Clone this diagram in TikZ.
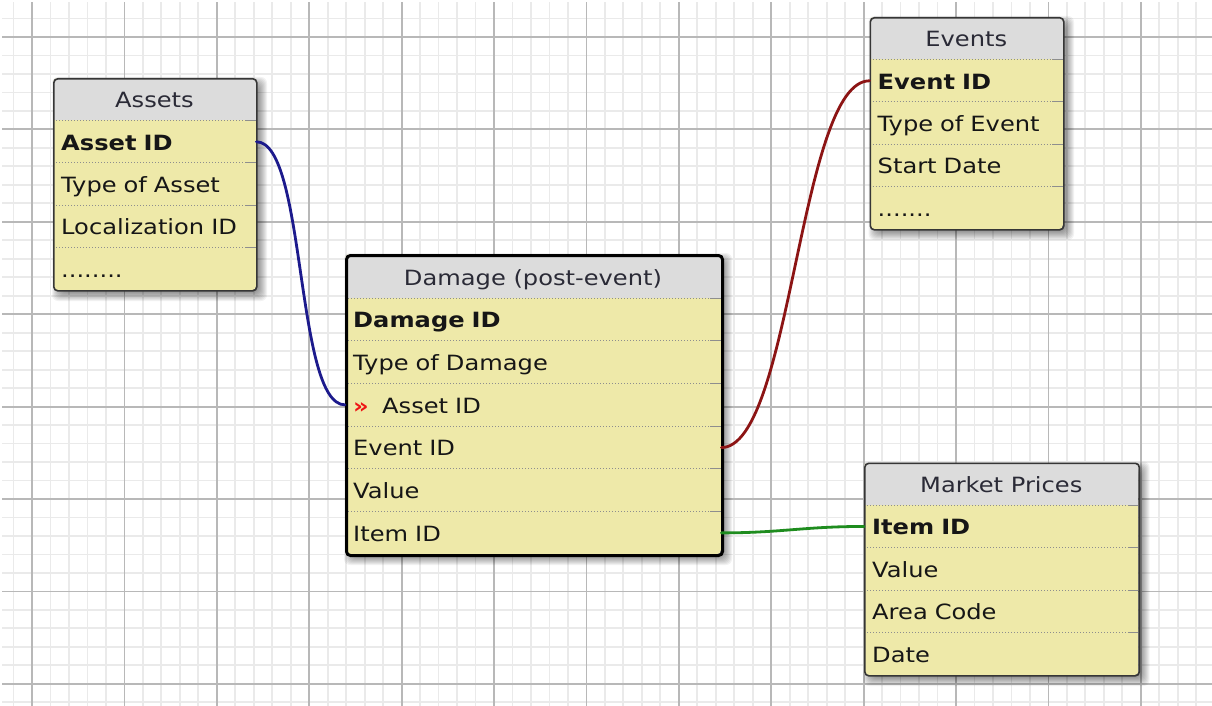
\documentclass[tikz,border=0pt]{standalone}
\usepackage{fontspec}
\setmainfont[FakeStretch=1.15]{DejaVu Sans}
\usetikzlibrary{calc}

\definecolor{gridminor}{HTML}{EAEAEA}
\definecolor{gridmajor}{HTML}{B8B8B8}
\definecolor{hdrfill}{HTML}{DCDCDC}
\definecolor{rowfill}{HTML}{EEE9A9}
\definecolor{seprule}{HTML}{8E8E8E}
\definecolor{framecol}{HTML}{363636}
\definecolor{titlecol}{HTML}{2A2A36}
\definecolor{rowcol}{HTML}{161616}
\definecolor{linkblue}{HTML}{1C1A8C}
\definecolor{linkred}{HTML}{8C1414}
\definecolor{linkgreen}{HTML}{1E8C1E}
\definecolor{fkred}{HTML}{EE1515}

\tikzset{
  x=1pt, y=-1pt,
  every node/.style={font=\fontsize{21pt}{25pt}\selectfont},
  shadowlayer/.style={fill=black, opacity=0.05, rounded corners=6pt},
  sepdots/.style={draw=seprule, line width=0.9pt, dash pattern=on 1.1pt off 1.9pt},
  sepdash/.style={draw=seprule, line width=0.9pt},
  framebox/.style={draw=framecol, line width=1.6pt, rounded corners=4pt, inner sep=0pt, fill=none},
  selectedbox/.style={draw=black, line width=3pt},
  titletext/.style={anchor=base, inner sep=0pt, text=titlecol},
  rowcell/.style={anchor=north west, inner xsep=8pt, inner ysep=0pt, align=left,
    text height=16.5pt, text depth=0pt, text=rowcol},
  link/.style={line width=2.8pt, line cap=round},
}

% foreign-key marker in front of a column name
\newcommand\fkmark{\makebox[29pt][l]{\textcolor{fkred}{\bfseries »}}}
% placeholder rows for further columns
\newcommand\moreeight{\mbox{........}}
\newcommand\moreseven{\mbox{.......}}

% #1 name, #2 x, #3 y, #4 width, #5 header height, #6 row height,
% #7 title, #8 column list, #9 extra frame style
\newcommand\erdtable[9]{%
  \gdef\erdn{0}%
  \foreach \t in {#8}{\xdef\erdn{\the\numexpr\erdn+1\relax}}%
  \pgfmathsetmacro\erdH{#5+\erdn*#6}%
  \pgfmathsetmacro\erdtw{#4-16}%
  \foreach \e in {0,...,12}{%
    \fill[shadowlayer] ({#2+11-\e},{#3+11-\e}) rectangle ({#2+#4-1+\e},{#3+\erdH-1+\e});}%
  \begin{scope}
    \clip[rounded corners=4pt] (#2,#3) rectangle ({#2+#4},{#3+\erdH});
    \fill[rowfill] (#2,#3) rectangle ({#2+#4},{#3+\erdH});
    \fill[hdrfill] (#2,#3) rectangle ({#2+#4},{#3+#5});
    \foreach \k in {1,...,\erdn}{%
      \draw[sepdots] ({#2},{#3+#5+(\k-1)*#6}) -- ({#2+#4-11},{#3+#5+(\k-1)*#6});
      \draw[sepdash] ({#2+#4-11},{#3+#5+(\k-1)*#6}) -- ({#2+#4},{#3+#5+(\k-1)*#6});}%
  \end{scope}
  \node[framebox, #9, minimum width=#4pt, minimum height=\erdH pt, anchor=north west] (#1) at (#2,#3) {};
  \node[titletext] (#1-title) at ({#2+#4/2},{#3+#5-13}) {#7};
  \foreach[count=\i] \t in {#8}{%
    \node[rowcell, text width=\erdtw pt, minimum height=#6pt] (#1-\i) at ({#2},{#3+#5+(\i-1)*#6}) {\t};}%
}

\begin{document}
\begin{tikzpicture}
\useasboundingbox (0,0) rectangle (1212,706);
\fill[white] (0,0) rectangle (1212,706);

% background grid
\begin{scope}
  \clip (2,3) rectangle (1212,706);
  \foreach \i in {0,...,65}{\draw[gridminor, line width=1.8pt] ({13.52+\i*18.48},0) -- ++(0,706);}
  \foreach \i in {0,...,38}{\draw[gridminor, line width=1.8pt] (0,{0.04+\i*18.48}) -- ++(1212,0);}
  \foreach \i in {0,...,12}{\draw[gridmajor, line width=1.8pt] ({32+\i*92.4},0) -- ++(0,706);}
  \foreach \i in {0,...,7}{\draw[gridmajor, line width=1.8pt] (0,{37+\i*92.4}) -- ++(1212,0);}
\end{scope}

% tables
\erdtable{assets}{53}{78}{203}{42.4}{42.4}{Assets}
  {\textbf{Asset ID}, Type of Asset, Localization ID, \moreeight}{}
\erdtable{events}{869.5}{17}{193.5}{42.4}{42.4}{Events}
  {\textbf{Event ID}, Type of Event, Start Date, \moreseven}{}
\erdtable{market}{864}{462.5}{274.5}{42.5}{42.5}{Market Prices}
  {\textbf{Item ID}, Value, Area Code, Date}{}
\erdtable{damage}{345}{254}{376}{44}{42.67}{Damage (post-event)}
  {\textbf{Damage ID}, Type of Damage, \fkmark Asset ID, Event ID, Value, Item ID}{selectedbox}

% relationships
\draw[link, linkblue] (assets-1.east) .. controls +(50,0) and +(-50,0) .. (damage-3.west);
\draw[link, linkred] (damage-4.east) .. controls +(70,0) and +(-70,0) .. (events-1.west);
\draw[link, linkgreen] (damage-6.east) .. controls +(60,0) and +(-60,0) .. (market-1.west);
\end{tikzpicture}
\end{document}
